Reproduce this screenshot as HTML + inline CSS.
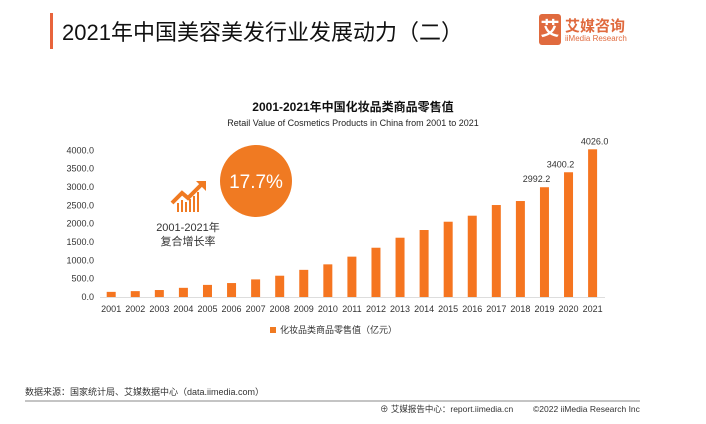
<!DOCTYPE html>
<html><head><meta charset="utf-8"><style>
body{margin:0;width:706px;height:424px;background:#fff;overflow:hidden;font-family:"Liberation Sans","Noto Sans CJK SC",sans-serif;position:relative}
.a{position:absolute;white-space:nowrap}
</style></head><body>
<div class="a" style="left:50px;top:13px;width:3px;height:36px;background:#e8643c"></div>
<div class="a" style="left:62px;top:15px;font-size:22px;color:#111">2021年中国美容美发行业发展动力（二）</div>
<div class="a" style="left:539px;top:14px;width:22px;height:31px;background:#e06a3e;border-radius:3px;color:#fff;font-size:19px;text-align:center;line-height:31px;font-weight:bold">艾</div>
<div class="a" style="left:565px;top:15px;font-size:15px;color:#e06a3e;font-weight:bold">艾媒咨询</div>
<div class="a" style="left:565px;top:34px;font-size:8px;color:#e06a3e">iiMedia Research</div>
<div class="a" style="left:0;width:706px;text-align:center;top:98px;font-size:12px;font-weight:bold;color:#111">2001-2021年中国化妆品类商品零售值</div>
<div class="a" style="left:0;width:706px;text-align:center;top:118px;font-size:9px;color:#222">Retail Value of Cosmetics Products in China from 2001 to 2021</div>
<svg class="a" style="left:0;top:0" width="706" height="424">
<g id="g"></g>
<circle cx="256" cy="181" r="36" fill="#f07a22"/>
<text x="256" y="188" text-anchor="middle" font-size="19" fill="#fff">17.7%</text>
<g fill="#f07a22">
<rect x="177" y="203" width="2" height="9"/><rect x="181" y="200" width="2" height="12"/><rect x="185" y="202" width="2" height="10"/><rect x="189" y="199" width="2" height="13"/><rect x="193" y="196" width="2" height="16"/><rect x="197" y="192" width="2" height="20"/>
<polyline points="172,203 182,193 188,198 201,185" fill="none" stroke="#f07a22" stroke-width="4"/>
<polygon points="196,181 206,181 206,191"/>
</g>
<text x="188" y="231" text-anchor="middle" font-size="11" fill="#333">2001-2021年</text>
<text x="188" y="245" text-anchor="middle" font-size="11" fill="#333">复合增长率</text>
<rect x="270" y="327" width="6" height="6" fill="#f07a22"/>
<text x="280" y="333" font-size="9" fill="#333">化妆品类商品零售值（亿元）</text>
<line x1="25" y1="401" x2="640" y2="401" stroke="#888"/>
<text x="25" y="395" font-size="9" fill="#333">数据来源：国家统计局、艾媒数据中心（data.iimedia.com）</text>
<text x="380" y="412" font-size="8.5" fill="#333">⊕ 艾媒报告中心：report.iimedia.cn</text>
<text x="533" y="412" font-size="8.5" fill="#333">©2022  iiMedia Research  Inc</text>
</svg>
<script>
const years=["2001","2002","2003","2004","2005","2006","2007","2008","2009","2010","2011","2012","2013","2014","2015","2016","2017","2018","2019","2020","2021"];
const values=[140,160,190,250,330,380,480,580,740,890,1100,1343,1616,1826,2052,2216,2507,2616,2992.2,3400.2,4026.0];
const yTicks=[0,500,1000,1500,2000,2500,3000,3500,4000];
const labeled=["2019","2020","2021"];
const g=document.getElementById('g');const NS='http://www.w3.org/2000/svg';
const y0=297,k=147.7/4026;
function Y(v){return y0-v*k}
function X(i){return 111.2+i*24.07}
function mk(t,a){const e=document.createElementNS(NS,t);for(const n in a)e.setAttribute(n,a[n]);g.appendChild(e);return e}
yTicks.forEach(v=>{const t=mk('text',{x:94,y:Y(v)+3,'text-anchor':'end','font-size':9,fill:'#333'});t.textContent=v.toFixed(1);

});
const ax=mk('line',{x1:100,x2:605,y1:y0+0.5,y2:y0+0.5,stroke:'#ddd'});


years.forEach((yr,i)=>{const v=values[i];
const r=mk('rect',{x:X(i)-4.5,y:Y(v),width:9,height:y0-Y(v),fill:'#f57520'});


const t=mk('text',{x:X(i),y:312,'text-anchor':'middle','font-size':9,fill:'#333'});t.textContent=yr;


if(labeled.includes(yr)){const l=mk('text',{x:X(i)-(yr==='2021'?-2:8),y:Y(v)-5,'text-anchor':'middle','font-size':9,fill:'#333'});l.textContent=v.toFixed(1);

}
});
</script>
</body></html>
